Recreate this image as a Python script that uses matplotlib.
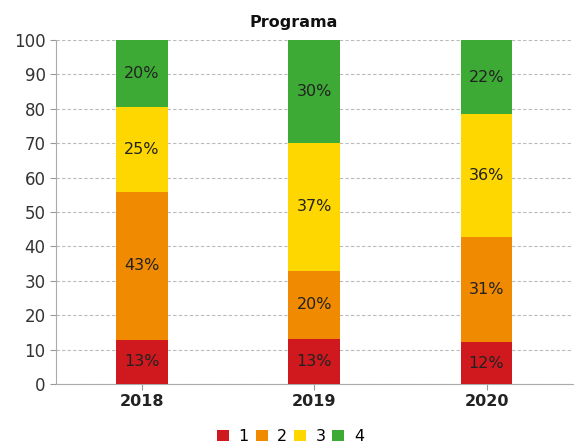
import numpy as np
import matplotlib.pyplot as plt

years = ["2018", "2019", "2020"]
series = ["1", "2", "3", "4"]
values = {
    "1": [12.9, 13.0, 12.2],
    "2": [42.9, 20.0, 30.6],
    "3": [24.6, 37.0, 35.6],
    "4": [19.6, 30.0, 21.6],
}
colors = ["#d0191e", "#f08a00", "#ffd700", "#3daa35"]

fig = plt.figure(figsize=(5.74, 4.45), dpi=100)
ax = fig.add_axes([0.0976, 0.137, 0.9, 0.773])

x = np.arange(len(years))
bottom = np.zeros(len(years))
for s, c in zip(series, colors):
    v = np.array(values[s])
    bars = ax.bar(x, v, 0.3, bottom=bottom, color=c, label=s, zorder=3)
    ax.bar_label(bars, labels=[f"{val:.0f}%" for val in v],
                 label_type="center", fontsize=11.5, color="#222222")
    bottom += v

ax.set_xlim(-0.5, 2.5)
ax.set_ylim(0, 100)
ax.set_yticks(range(0, 101, 10))
ax.set_xticks(x)
ax.set_xticklabels(years, fontweight="bold", fontsize=11.5, color="#222222")
ax.tick_params(axis="y", labelsize=12, length=4, color="#999999", labelcolor="#333333")
ax.tick_params(axis="x", length=4, color="#999999")
ax.grid(axis="y", linestyle=(0, (3, 2)), color="#bbbbbb", linewidth=0.8, zorder=0)
for side in ["top", "right"]:
    ax.spines[side].set_visible(False)
for side in ["left", "bottom"]:
    ax.spines[side].set_color("#aaaaaa")

fig.text(0.511, 1 - 27 / 445, "Programa", fontweight="bold", fontsize=11.5,
         ha="center", va="baseline", color="#111111")

fig.legend(loc="lower center", ncol=4, frameon=False, fontsize=11.5,
           handlelength=0.75, handleheight=0.75, handletextpad=0.6,
           columnspacing=0.42, bbox_to_anchor=(0.506, -0.03))

fig.savefig("out.png")
